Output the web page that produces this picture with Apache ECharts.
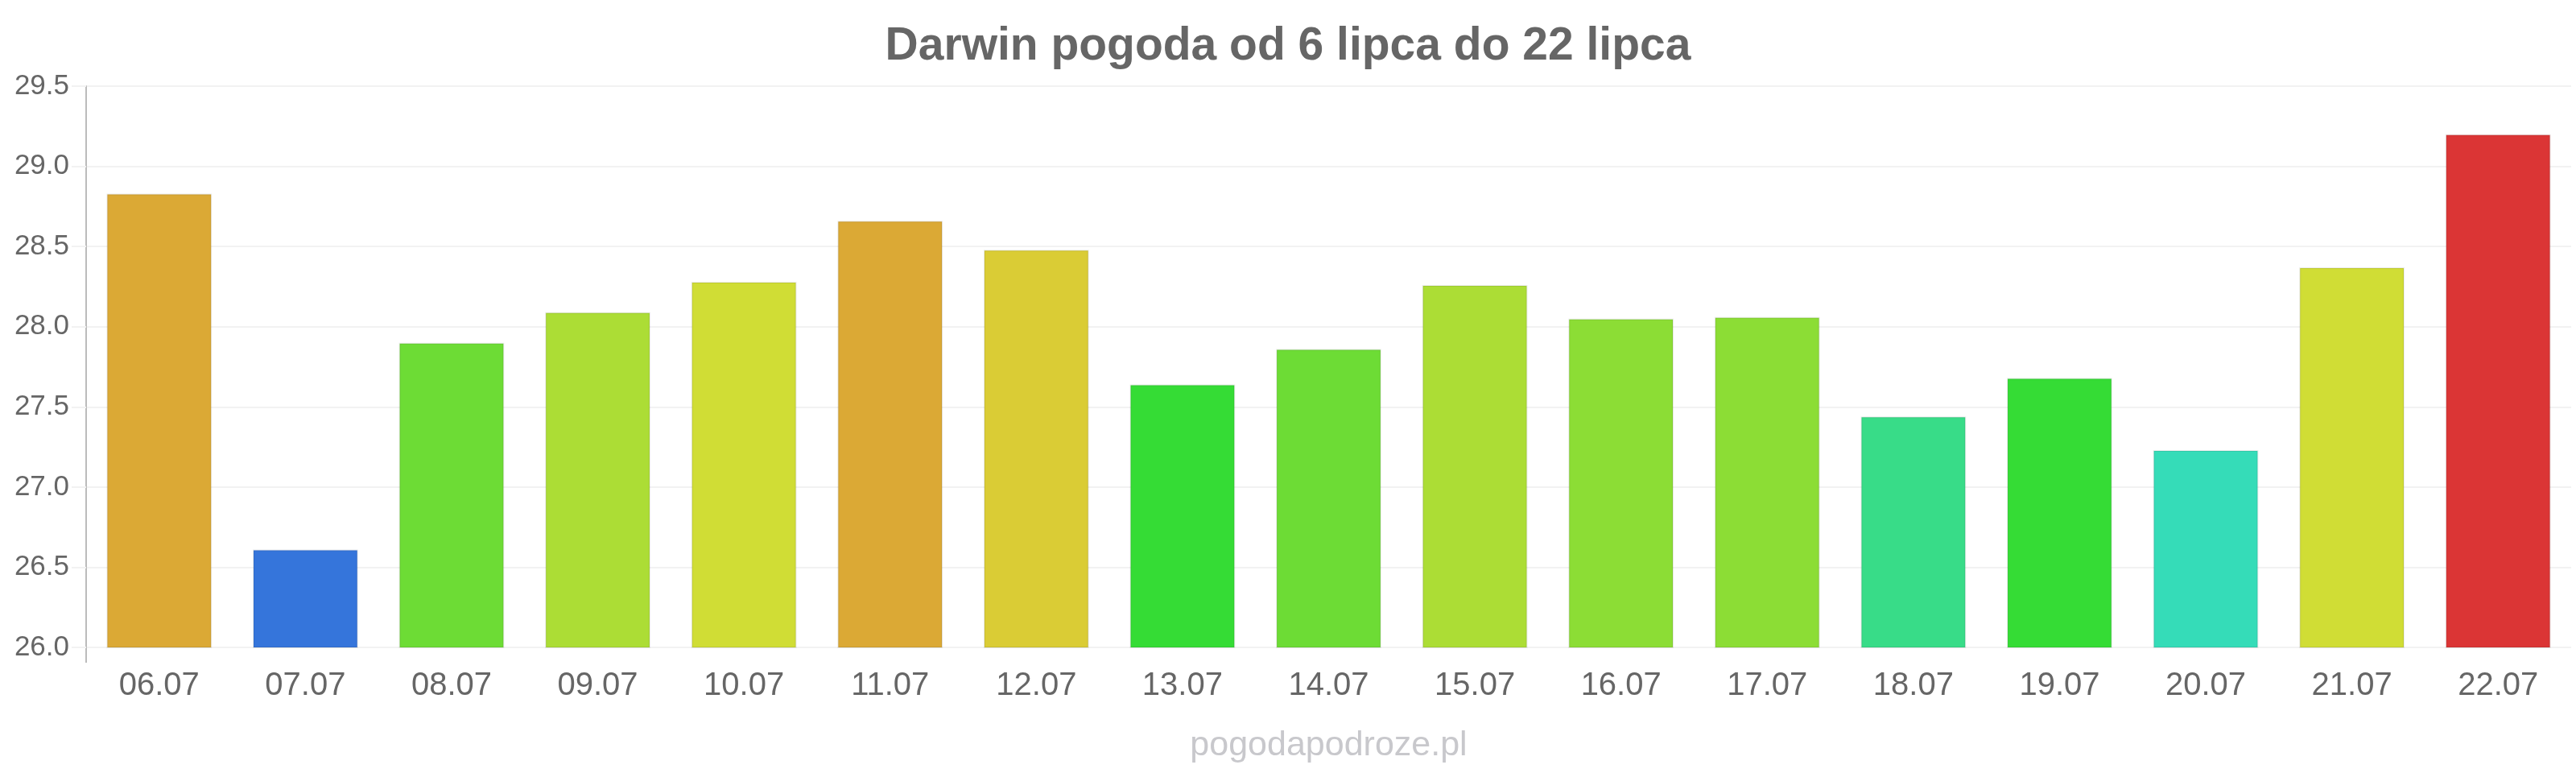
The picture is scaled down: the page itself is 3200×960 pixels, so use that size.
<!DOCTYPE html>
<html>
<head>
<meta charset="utf-8">
<script src="https://cdn.jsdelivr.net/npm/echarts@6/dist/echarts.min.js"></script>
<style>
html,body{margin:0;padding:0;background:#fff;}
#chart{width:3200px;height:960px;}
</style>
</head>
<body>
<div id="chart"></div>
<script>
const titleText = 'Darwin pogoda od 6 lipca do 22 lipca';
const watermark = 'pogodapodroze.pl';
const categories = ['06.07','07.07','08.07','09.07','10.07','11.07','12.07','13.07','14.07','15.07','16.07','17.07','18.07','19.07','20.07','21.07','22.07'];
const temps = [28.83, 26.61, 27.90, 28.09, 28.28, 28.66, 28.48, 27.64, 27.86, 28.26, 28.05, 28.06, 27.44, 27.68, 27.23, 28.37, 29.20];
const barColors = ['#dba935','#3575db','#6ddc35','#acdd35','#d0dd35','#dba935','#dacc35','#35dc35','#6ddc35','#acdd35','#8cdd35','#8cdd35','#38dc88','#35dc35','#35dcb8','#d0dd35','#db3535'];
const yTicks = [26.0, 26.5, 27.0, 27.5, 28.0, 28.5, 29.0, 29.5];

const FONT = '"Liberation Sans", Arial, sans-serif';
const chart = echarts.init(document.getElementById('chart'), null, {renderer: 'canvas'});
const gridLeft = 107, gridRight = 6, gridTop = 107, gridBottom = 156;

chart.setOption({
  backgroundColor: '#ffffff',
  animation: false,
  title: {
    text: titleText,
    left: 'center',
    top: 25,
    textStyle: {fontFamily: FONT, fontSize: 57, fontWeight: 'bold', color: '#666666'}
  },
  grid: {left: gridLeft, right: gridRight, top: gridTop, bottom: gridBottom, containLabel: false},
  xAxis: {
    type: 'category',
    data: categories,
    axisLine: {show: false},
    axisTick: {show: false},
    axisLabel: {fontFamily: FONT, fontSize: 40, color: '#666666', margin: 28}
  },
  yAxis: {
    type: 'value',
    min: yTicks[0],
    max: yTicks[yTicks.length - 1],
    interval: 0.5,
    axisLine: {show: true, lineStyle: {color: '#bbbbbb', width: 2}},
    axisTick: {show: true, length: 18, lineStyle: {color: '#f2f2f2', width: 2}},
    splitLine: {show: true, lineStyle: {color: '#f2f2f2', width: 2}},
    axisLabel: {
      fontFamily: FONT, fontSize: 35, color: '#666666', margin: 21,
      formatter: v => v.toFixed(1)
    }
  },
  series: [{
    type: 'bar',
    data: temps.map((v, i) => ({
      value: v,
      itemStyle: {color: barColors[i]}
    })),
    barCategoryGap: '28%',
    itemStyle: {borderColor: 'rgba(0,0,0,0.08)', borderWidth: 2}
  }]
});

// extend y-axis line below plot and add watermark
const bottomPt = chart.convertToPixel({gridIndex: 0}, [0, yTicks[0]]);
const axisX = gridLeft;
chart.setOption({
  graphic: [
    {type: 'line', shape: {x1: axisX, y1: bottomPt[1], x2: axisX, y2: bottomPt[1] + 19}, style: {stroke: '#bbbbbb', lineWidth: 2}, silent: true},
    {type: 'text', x: (gridLeft + (3200 - gridRight)) / 2, y: 905,
     style: {text: watermark, fontFamily: FONT, fontSize: 43, fill: '#c8c8cc', textAlign: 'center', textVerticalAlign: 'top'}}
  ]
});
</script>
</body>
</html>
